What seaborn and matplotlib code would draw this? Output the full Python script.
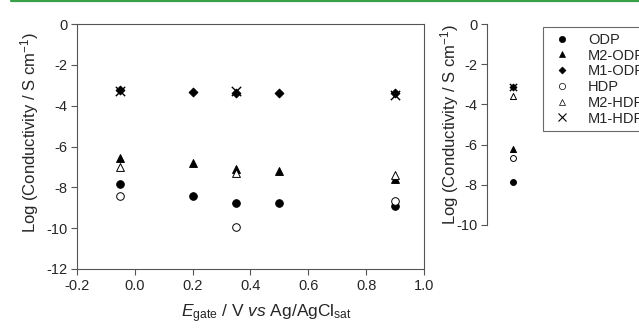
import pandas as pd
import matplotlib.pyplot as plt
import seaborn as sns
from matplotlib.lines import Line2D

# gate potential (V vs Ag/AgCl sat)
e_gate = [-0.05, 0.2, 0.35, 0.5, 0.9]

# log conductivity values (None = no point)
odp = [-7.86, -8.43, -8.76, -8.76, -8.9]
m2_odp = [-6.55, -6.8, -7.1, -7.2, -7.6]
m1_odp = [-3.22, -3.33, -3.4, -3.37, -3.37]
hdp = [-8.41, None, -9.93, None, -8.68]
m2_hdp = [-7.0, None, -7.32, None, -7.4]
m1_hdp = [-3.3, None, -3.3, None, -3.5]

# side panel values (single column)
side_names = ['ODP', 'M2-ODP', 'M1-ODP', 'HDP', 'M2-HDP', 'M1-HDP']
side_vals = [-7.85, -6.22, -3.12, -6.68, -3.57, -3.12]

series_names = ['ODP', 'M2-ODP', 'M1-ODP', 'HDP', 'M2-HDP', 'M1-HDP']
series_vals = [odp, m2_odp, m1_odp, hdp, m2_hdp, m1_hdp]

rows = []
for name, vals in zip(series_names, series_vals):
    for x, y in zip(e_gate, vals):
        if y is not None:
            rows.append({'series': name, 'E': x, 'logc': y})
df = pd.DataFrame(rows)
side_df = pd.DataFrame({'series': side_names, 'x': 0.0, 'logc': side_vals})

# marker style per series: (marker, facecolor, size)
styles = {
    'ODP': ('o', 'black', 30),
    'M2-ODP': ('^', 'black', 32),
    'M1-ODP': ('D', 'black', 20),
    'HDP': ('o', 'white', 30),
    'M2-HDP': ('^', 'white', 32),
    'M1-HDP': ('x', 'black', 45),
}

sns.set_style('ticks')
plt.rcParams['font.family'] = ['Liberation Sans', 'DejaVu Sans']
plt.rcParams['mathtext.fontset'] = 'custom'
plt.rcParams['mathtext.rm'] = 'Liberation Sans'
plt.rcParams['mathtext.it'] = 'Liberation Sans:italic'

fig = plt.figure(figsize=(6.39, 3.29), dpi=100)
W, H = 639, 329
ax = fig.add_axes([77 / W, 1 - 269 / H, (424 - 77) / W, (269 - 24) / H])
ax2 = fig.add_axes([487 / W, 1 - 225 / H, 52 / W, (225 - 24) / H])

for name in series_names:
    m, fc, s = styles[name]
    sub = df[df['series'] == name]
    kw = dict(marker=m, s=s, color=fc, linewidth=0.7)
    if m == 'x':
        kw.update(color='black', linewidth=1.0)
    else:
        kw.update(edgecolor='black')
    sns.scatterplot(data=sub, x='E', y='logc', ax=ax, **kw)
    sub2 = side_df[side_df['series'] == name]
    kw2 = dict(kw)
    kw2['s'] = s * 0.6
    sns.scatterplot(data=sub2, x='x', y='logc', ax=ax2, **kw2)

ax.set_xlim(-0.2, 1.0)
ax.set_ylim(-12, 0)
ax.set_xticks([-0.2, 0.0, 0.2, 0.4, 0.6, 0.8, 1.0])
ax.set_xticklabels(['-0.2', '0.0', '0.2', '0.4', '0.6', '0.8', '1.0'])
ax.set_yticks(range(-12, 1, 2))
ax.set_yticklabels([str(v) for v in range(-12, 1, 2)])
ax.set_xlabel(r'$\it{E}$$_{\mathrm{gate}}$ / V $\it{vs}$ Ag/AgCl$_{\mathrm{sat}}$', fontsize=12.5, labelpad=5)
ax.xaxis.set_label_coords(0.545, -0.135)
ax.set_ylabel(r'Log (Conductivity / S cm$^{-1}$)', fontsize=12, labelpad=3)
ax.yaxis.set_label_coords(-0.105, 0.555)
for sp in ax.spines.values():
    sp.set_color('#555555')
    sp.set_linewidth(0.8)
ax.tick_params(labelsize=10.5, length=4, width=0.8, color='#555555', pad=3)

ax2.set_xlim(-1, 1)
ax2.set_ylim(-10, 0)
ax2.set_yticks(range(-10, 1, 2))
ax2.set_yticklabels([str(v) for v in range(-10, 1, 2)])
ax2.set_xticks([])
ax2.set_xlabel('')
ax2.set_ylabel(r'Log (Conductivity / S cm$^{-1}$)', fontsize=12, labelpad=3)
ax2.yaxis.set_label_coords(-0.5, 0.5)
for k in ['top', 'right', 'bottom']:
    ax2.spines[k].set_visible(False)
ax2.spines['left'].set_color('#555555')
ax2.spines['left'].set_linewidth(0.8)
ax2.tick_params(labelsize=10.5, length=4, width=0.8, color='#555555', pad=3)

handles = []
for name in series_names:
    m, fc, s = styles[name]
    if m == 'x':
        handles.append(Line2D([], [], marker='x', linestyle='', color='black', markersize=6, markeredgewidth=0.8))
    else:
        handles.append(Line2D([], [], marker=m, linestyle='', markerfacecolor=fc, markeredgecolor='black',
                              markersize=4.5 if m != 'D' else 3.5, markeredgewidth=0.5))
leg = fig.legend(handles, series_names, loc='upper left', bbox_to_anchor=(543 / W, 1 - 27 / H),
                 fontsize=10.5, frameon=True, fancybox=False, edgecolor='#444444',
                 handletextpad=0.9, labelspacing=0.12, borderpad=0.4, handlelength=1.8,
                 borderaxespad=0)
leg.get_frame().set_linewidth(0.8)

fig.add_artist(Line2D([11 / W, 1], [1 - 0.8 / H, 1 - 0.8 / H], color='#3aa04a', linewidth=1.6))

fig.savefig('out.png', dpi=100)
